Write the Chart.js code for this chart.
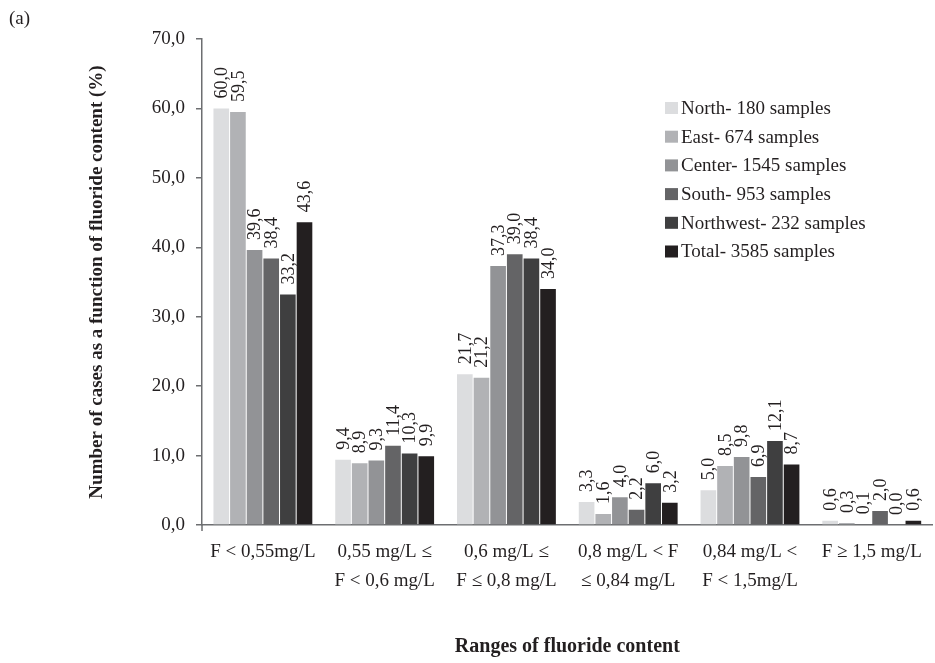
<!DOCTYPE html>
<html>
<head>
<meta charset="utf-8">
<script src="https://cdn.jsdelivr.net/npm/chart.js@4.4.1/dist/chart.umd.min.js"></script>
<style>
  html, body { margin: 0; padding: 0; background: #ffffff; }
  #wrap { position: relative; width: 935px; height: 663px; }
</style>
</head>
<body>
<div id="wrap"><canvas id="c" width="935" height="663"></canvas></div>
<script>
const categories = [
  ['F < 0,55mg/L'],
  ['0,55 mg/L ≤', 'F < 0,6 mg/L'],
  ['0,6 mg/L ≤', 'F ≤ 0,8 mg/L'],
  ['0,8 mg/L < F', '≤ 0,84 mg/L'],
  ['0,84 mg/L <', 'F < 1,5mg/L'],
  ['F ≥ 1,5 mg/L']
];
const seriesNames = [
  'North- 180 samples',
  'East- 674 samples',
  'Center- 1545 samples',
  'South- 953 samples',
  'Northwest- 232 samples',
  'Total- 3585 samples'
];
const north     = [60.0, 9.4, 21.7, 3.3, 5.0, 0.6];
const east      = [59.5, 8.9, 21.2, 1.6, 8.5, 0.3];
const center    = [39.6, 9.3, 37.3, 4.0, 9.8, 0.1];
const south     = [38.4, 11.4, 39.0, 2.2, 6.9, 2.0];
const northwest = [33.2, 10.3, 38.4, 6.0, 12.1, 0.0];
const total     = [43.6, 9.9, 34.0, 3.2, 8.7, 0.6];
const yTicks = [0, 10, 20, 30, 40, 50, 60, 70];

const colors = ['#dcdddf', '#b1b2b5', '#929396', '#646466', '#3f3f40', '#231f20'];
const allSeries = [north, east, center, south, northwest, total];

const FONT = "'Liberation Serif', 'Times New Roman', serif";
const TXT = '#231f20';
const AXIS = '#6d6e71';
const fmt = v => v.toFixed(1).replace('.', ',');

const valueLabels = {
  id: 'valueLabels',
  afterDatasetsDraw(chart) {
    const ctx = chart.ctx;
    ctx.save();
    ctx.font = '18px ' + FONT;
    ctx.fillStyle = TXT;
    ctx.textAlign = 'left';
    ctx.textBaseline = 'middle';
    chart.data.datasets.forEach((ds, i) => {
      const meta = chart.getDatasetMeta(i);
      meta.data.forEach((el, j) => {
        ctx.save();
        ctx.translate(el.x, el.y - 10);
        ctx.rotate(-Math.PI / 2);
        ctx.fillText(fmt(ds.data[j]), 0, 1);
        ctx.restore();
      });
    });
    ctx.restore();
  }
};

const customLegend = {
  id: 'customLegend',
  afterDraw(chart) {
    const ctx = chart.ctx;
    ctx.save();
    // small extension of the y axis below the baseline
    const ys = chart.scales.y;
    const y0px = ys.getPixelForValue(0);
    ctx.strokeStyle = AXIS;
    ctx.lineWidth = 1.5;
    ctx.beginPath();
    ctx.moveTo(chart.chartArea.left, y0px);
    ctx.lineTo(chart.chartArea.left, y0px + 6);
    ctx.stroke();

    ctx.font = '19px ' + FONT;
    ctx.textAlign = 'left';
    ctx.textBaseline = 'middle';
    const x0 = 665, yStart = 108, step = 28.7;
    chart.data.datasets.forEach((ds, i) => {
      const y = yStart + i * step;
      ctx.fillStyle = ds.backgroundColor;
      ctx.fillRect(x0, y - 6, 13, 12);
      ctx.fillStyle = TXT;
      ctx.fillText(ds.label, x0 + 16, y + 1);
    });
    ctx.fillText('(a)', 9, 19);
    ctx.restore();
  }
};

new Chart(document.getElementById('c'), {
  type: 'bar',
  data: {
    labels: categories,
    datasets: allSeries.map((d, i) => ({
      label: seriesNames[i],
      data: d,
      backgroundColor: colors[i],
      borderWidth: 0,
      categoryPercentage: 0.82,
      barPercentage: 0.94
    }))
  },
  options: {
    responsive: false,
    animation: false,
    devicePixelRatio: 1,
    layout: { padding: { top: 39, right: 2, bottom: 0, left: 0 } },
    plugins: {
      legend: { display: false },
      tooltip: { enabled: false }
    },
    scales: {
      x: {
        grid: { display: false, drawTicks: false },
        border: { display: true, color: AXIS, width: 1.5 },
        ticks: {
          color: TXT,
          font: { family: FONT, size: 19, lineHeight: 1.52 },
          padding: 13,
          maxRotation: 0,
          autoSkip: false
        },
        title: {
          display: true,
          text: 'Ranges of fluoride content',
          color: TXT,
          font: { family: FONT, size: 20, weight: 'bold', lineHeight: 1.2 },
          padding: { top: 0, bottom: 4 }
        },
        afterFit(s) { s.height = 138; }
      },
      y: {
        min: 0,
        max: 70,
        afterBuildTicks(s) { s.ticks = yTicks.map(v => ({ value: v })); },
        grid: { drawOnChartArea: false, drawTicks: true, tickLength: 6, color: AXIS, lineWidth: 1.5 },
        border: { display: true, color: AXIS, width: 1.5 },
        ticks: {
          color: TXT,
          font: { family: FONT, size: 19 },
          padding: 11,
          callback: v => fmt(v)
        },
        title: {
          display: true,
          text: 'Number of cases as a function of fluoride content (%)',
          color: TXT,
          font: { family: FONT, size: 19, weight: 'bold', lineHeight: 1.2 },
          padding: { top: 86, bottom: 0 }
        },
        afterFit(s) { s.width = 202; }
      }
    }
  },
  plugins: [valueLabels, customLegend]
});
</script>
</body>
</html>
